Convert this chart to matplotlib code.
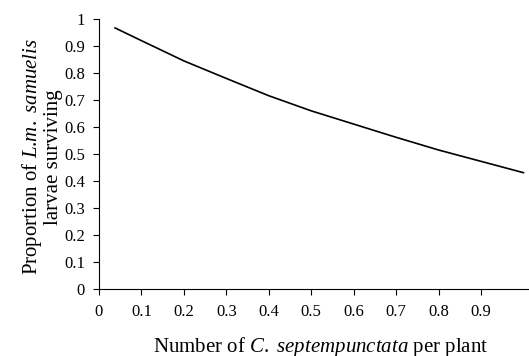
import matplotlib
matplotlib.use('Agg')
import matplotlib.pyplot as plt

plt.rcParams['font.family'] = ['Liberation Serif', 'DejaVu Serif']
plt.rcParams['mathtext.fontset'] = 'custom'
plt.rcParams['mathtext.rm'] = 'Liberation Serif'
plt.rcParams['mathtext.it'] = 'Liberation Serif:italic'

# ladybird density vs. larval survival
density = [0.038, 0.1, 0.2, 0.3, 0.4, 0.5, 0.6, 0.7, 0.8, 0.9, 1.0]
survival = [0.967, 0.92, 0.845, 0.78, 0.716, 0.66, 0.611, 0.562, 0.515, 0.473, 0.431]

xticks = [0, 0.1, 0.2, 0.3, 0.4, 0.5, 0.6, 0.7, 0.8, 0.9]
yticks = [0, 0.1, 0.2, 0.3, 0.4, 0.5, 0.6, 0.7, 0.8, 0.9, 1]

fig = plt.figure(figsize=(5.29, 3.56), dpi=100)
ax = fig.add_axes([0.187, 0.188, 0.8105, 0.7586])

ax.plot(density, survival, color='black', lw=1.2)

ax.set_xlim(0, 1.01)
ax.set_ylim(0, 1)
ax.set_xticks(xticks)
ax.set_xticklabels([f'{t:g}' for t in xticks])
ax.set_yticks(yticks)
ax.set_yticklabels([f'{t:g}' for t in yticks])
ax.tick_params(labelsize=12, length=4, width=0.8)
ax.tick_params(axis='x', pad=7)
ax.tick_params(axis='y', pad=6)

for s in ['top', 'right']:
    ax.spines[s].set_visible(False)

ax.set_xlabel(r'Number of $\mathit{C.}$ $\mathit{septempunctata}$ per plant', fontsize=15, va='center')
ax.xaxis.set_label_coords(0.518, -0.215)
ax.set_ylabel('Proportion of $\\mathit{L}$.$\\mathit{m.}$ $\\mathit{samuelis}$\nlarvae surviving',
              fontsize=15, linespacing=1.0, va='center')
ax.yaxis.set_label_coords(-0.135, 0.49)

plt.savefig('out.png', dpi=100)
